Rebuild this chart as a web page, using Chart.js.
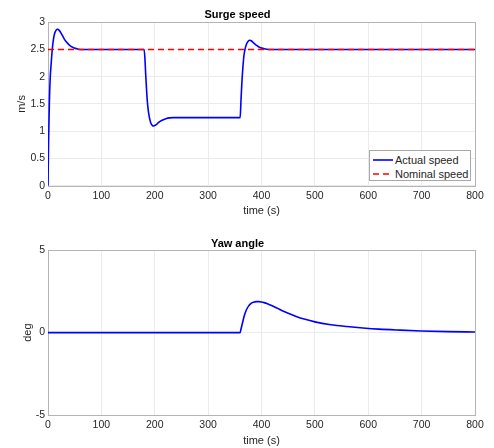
<!DOCTYPE html>
<html>
<head>
<meta charset="utf-8">
<script src="https://cdn.jsdelivr.net/npm/chart.js@4/dist/chart.umd.min.js"></script>
<style>
  html, body { margin: 0; padding: 0; background: #fff; }
  #wrap { position: relative; width: 494px; height: 448px; font-family: "Liberation Sans", Arial, sans-serif; }
  canvas { position: absolute; left: 0; }
  #c1 { top: 0; }
  #c2 { top: 224px; }
  #legend { position: absolute; left: 369px; top: 150px; width: 102px; height: 31px; box-sizing: border-box;
            border: 1px solid #a8a8a8; background: #fff; font-size: 11px; color: #262626; }
  .row { position: absolute; left: 0; height: 14px; display: flex; align-items: center; white-space: nowrap; }
  .row svg { margin-left: 3px; margin-right: 2px; }
</style>
</head>
<body>
<div id="wrap">
  <canvas id="c1" width="494" height="224"></canvas>
  <canvas id="c2" width="494" height="224"></canvas>
  <div id="legend"></div>
</div>
<script>
// ---------------- data ----------------
const surgeTime = [0, 1, 2.5, 4, 6, 8, 10, 12, 15, 18, 21, 25, 30, 35, 40, 46, 52, 60,
  180, 181.5, 183, 185, 187, 190, 193, 196, 198, 201, 205, 210, 216, 222, 228, 235, 245,
  360, 361.5, 363, 365, 367, 369, 372, 375, 378, 381, 385, 390, 396, 403, 410, 420, 800];
const surgeActual = [0, 0.75, 1.5, 1.95, 2.25, 2.5, 2.67, 2.78, 2.85, 2.87, 2.85, 2.79, 2.7, 2.63, 2.58, 2.54, 2.52, 2.5,
  2.5, 2.35, 2.05, 1.7, 1.45, 1.25, 1.14, 1.1, 1.096, 1.11, 1.14, 1.18, 1.21, 1.235, 1.245, 1.25, 1.25,
  1.25, 1.55, 1.85, 2.15, 2.38, 2.5, 2.6, 2.65, 2.67, 2.66, 2.62, 2.58, 2.54, 2.52, 2.505, 2.5, 2.5];
const nominalTime = [0, 800];
const nominalSpeed = [2.5, 2.5];

const yawTime = [0, 360, 361.5, 363, 365, 368, 372, 376, 380, 385, 390, 395, 400, 405, 410, 420, 430, 440, 450,
  465, 480, 500, 530, 560, 590, 620, 660, 700, 750, 800];
const yawAngle = [0, 0, 0.2, 0.4, 0.67, 1.05, 1.4, 1.62, 1.76, 1.84, 1.88, 1.88, 1.86, 1.82, 1.77, 1.63, 1.47, 1.31, 1.17,
  0.98, 0.82, 0.65, 0.48, 0.37, 0.28, 0.21, 0.15, 0.1, 0.06, 0.04];

const timeTicks = [0, 100, 200, 300, 400, 500, 600, 700, 800];
const surgeTicks = [0, 0.5, 1, 1.5, 2, 2.5, 3];
const yawTicks = [-5, 0, 5];

const seriesNames = ['Actual speed', 'Nominal speed'];
// --------------------------------------

const pts = (xs, ys) => xs.map((x, i) => ({ x: x, y: ys[i] }));
const FONT = '"Liberation Sans", Arial, sans-serif';
const TXT = '#262626';
const GRID = '#ebebeb';

const framePlugin = {
  id: 'frame',
  beforeDatasetsDraw(chart) {
    const a = chart.chartArea, ctx = chart.ctx;
    ctx.save();
    ctx.strokeStyle = '#b4b4b4';
    ctx.lineWidth = 1;
    ctx.strokeRect(Math.round(a.left) + 0.5, Math.round(a.top) + 0.5,
                   Math.round(a.right - a.left), Math.round(a.bottom - a.top));
    ctx.restore();
  }
};

function makeOptions(cfg) {
  return {
    responsive: false,
    animation: false,
    devicePixelRatio: 1,
    layout: { padding: { left: 0, right: 19, top: 0, bottom: 0 } },
    plugins: {
      legend: { display: false },
      tooltip: { enabled: false },
      title: {
        display: true, text: cfg.title, color: '#000',
        font: { family: FONT, size: 11, weight: 'bold', lineHeight: 1.2 },
        padding: { top: cfg.titleTop, bottom: cfg.titleBottom }
      }
    },
    elements: { point: { radius: 0 } },
    scales: {
      x: {
        type: 'linear', min: 0, max: 800,
        afterBuildTicks(s) { s.ticks = timeTicks.map(v => ({ value: v })); },
        afterFit(s) { s.height = cfg.xHeight; },
        grid: { color: GRID, drawTicks: false },
        border: { display: false },
        ticks: { color: TXT, padding: 4, maxRotation: 0, font: { family: FONT, size: 10.5 },
                 callback: v => String(v) },
        title: { display: true, text: 'time (s)', color: TXT,
                 font: { family: FONT, size: 11, lineHeight: 1.2 },
                 padding: { top: 0, bottom: cfg.xTitleBottom } }
      },
      y: {
        type: 'linear', min: cfg.yMin, max: cfg.yMax,
        afterBuildTicks(s) { s.ticks = cfg.yTicks.map(v => ({ value: v })); },
        afterFit(s) { s.width = 48; },
        grid: { color: GRID, drawTicks: false },
        border: { display: false },
        ticks: { color: TXT, padding: 3, font: { family: FONT, size: 10.5 },
                 callback: v => String(v) },
        title: { display: true, text: cfg.yTitle, color: TXT,
                 font: { family: FONT, size: 11, lineHeight: 1.2 },
                 padding: { top: cfg.yTitleTop, bottom: 0 } }
      }
    }
  };
}

const chart1 = new Chart(document.getElementById('c1'), {
  type: 'line',
  data: {
    datasets: [
      { label: seriesNames[0], data: pts(surgeTime, surgeActual), borderColor: '#0000ff',
        borderWidth: 1.6, cubicInterpolationMode: 'monotone', fill: false, order: 1 },
      { label: seriesNames[1], data: pts(nominalTime, nominalSpeed), borderColor: '#ff0000',
        borderWidth: 1.6, borderDash: [6, 4], fill: false, order: 0 }
    ]
  },
  options: makeOptions({ title: 'Surge speed', titleTop: 8, titleBottom: 1, xHeight: 38.3, xTitleBottom: 6.7,
                         yMin: 0, yMax: 3, yTicks: surgeTicks, yTitle: 'm/s', yTitleTop: 15.5 }),
  plugins: [framePlugin]
});

const chart2 = new Chart(document.getElementById('c2'), {
  type: 'line',
  data: {
    datasets: [
      { label: 'Yaw angle', data: pts(yawTime, yawAngle), borderColor: '#0000ff',
        borderWidth: 1.6, cubicInterpolationMode: 'monotone', fill: false }
    ]
  },
  options: makeOptions({ title: 'Yaw angle', titleTop: 13, titleBottom: 0, xHeight: 33, xTitleBottom: 0.7,
                         yMin: -5, yMax: 5, yTicks: yawTicks, yTitle: 'deg', yTitleTop: 21.7 }),
  plugins: [framePlugin]
});

// HTML legend built from the top chart's datasets
const legend = document.getElementById('legend');
chart1.data.datasets.forEach((ds, i) => {
  const row = document.createElement('div');
  row.className = 'row';
  row.style.top = (2 + i * 14) + 'px';
  const dash = ds.borderDash ? ds.borderDash.join(',') : 'none';
  row.innerHTML = '<svg width="20" height="4"><line x1="0" y1="2" x2="20" y2="2" stroke="' + ds.borderColor +
    '" stroke-width="1.6" stroke-dasharray="' + dash + '"/></svg><span>' + ds.label + '</span>';
  legend.appendChild(row);
});
</script>
</body>
</html>
